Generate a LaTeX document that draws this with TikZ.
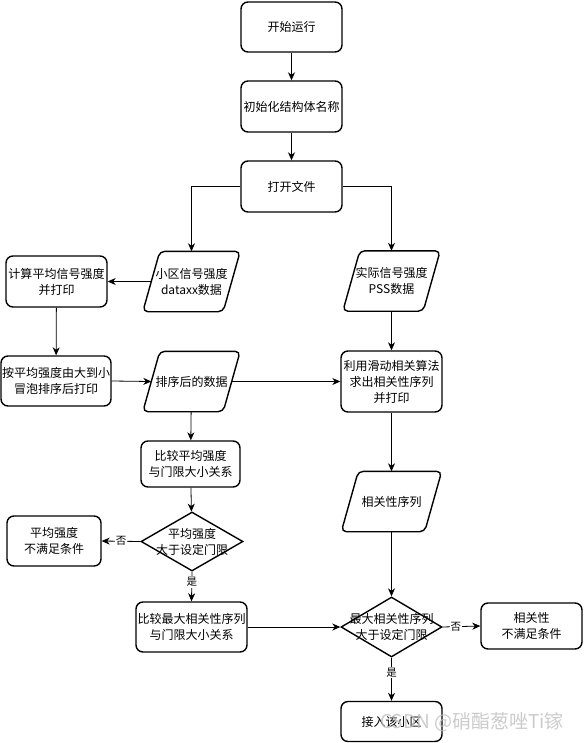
\documentclass[tikz,border=0pt]{standalone}
\usepackage{fontspec}
\setmainfont{Noto Sans CJK SC}
\usetikzlibrary{shapes.geometric,arrows.meta}
\begin{document}
\begin{tikzpicture}[x=1pt,y=-1pt,
  every node/.style={inner sep=0pt, align=center, font=\fontsize{12}{16}\selectfont},
  box/.style={draw, line width=1.4pt, rounded corners=7pt, minimum width=101pt, minimum height=50pt},
  para/.style={minimum width=97pt, minimum height=60pt},
  paraline/.style={draw, line width=1.4pt, rounded corners=5pt},
  dia/.style={diamond, draw, line width=1.4pt, minimum width=102pt, minimum height=59pt},
  arr/.style={-{Stealth[length=8pt,width=7pt,inset=2.5pt]}, line width=0.8pt},
  lab/.style={fill=white, inner sep=1pt, font=\fontsize{10.5}{12}\selectfont},
]
\useasboundingbox (0,0) rectangle (583,743);
\fill[white] (0,0) rectangle (583,743);

\node[box] (start) at (291.5,27) {开始运行};
\node[box, minimum height=51pt] (init) at (291.5,106.5) {初始化结构体名称};
\node[box, minimum height=51pt] (open) at (291.5,186.5) {打开文件};
\node[para] (cell) at (191.5,281.5) {小区信号强度\\dataxx数据};
\node[para] (pss) at (391.5,281) {实际信号强度\\PSS数据};
\node[box, minimum height=51pt] (calc) at (56.5,281.5) {计算平均信号强度\\并打印};
\node[box, minimum width=110pt] (bubble) at (56,381) {按平均强度由大到小\\冒泡排序后打印};
\node[para] (sorted) at (191.5,381.5) {排序后的数据};
\node[box, minimum height=61pt] (slide) at (391.5,381.5) {利用滑动相关算法\\求出相关性序列\\并打印};
\node[box, minimum width=99pt, minimum height=46pt] (cmpavg) at (190.5,464) {比较平均强度\\与门限大小关系};
\node[para, minimum width=100pt] (corr) at (391.5,501.5) {相关性序列};
\node[box, minimum width=94pt] (avgno) at (54,541) {平均强度\\不满足条件};
\node[dia] (d1) at (192,541.5) {};
\node (d1t) at (d1) {平均强度\\大于设定门限};
\node[box, minimum width=111pt] (cmpmax) at (191.5,627) {比较最大相关性序列\\与门限大小关系};
\node[dia, minimum width=101pt, minimum height=60pt] (d2) at (391.5,627) {};
\node (d2t) at (d2) {最大相关性序列\\大于设定门限};
\node[box, minimum height=46pt] (corrno) at (531.5,626) {相关性\\不满足条件};
\node[box, minimum height=40pt] (access) at (391.5,721.5) {接入该小区};

\foreach \p in {cell,pss,sorted,corr}{
  \draw[paraline] (\p.south west) -- ([xshift=-17pt]\p.south east) -- (\p.north east)
    -- ([xshift=17pt]\p.north west) -- cycle;
}

\draw[arr] (start) -- (init);
\draw[arr] (init) -- (open);
\draw[arr] (open.west) -| (cell.north);
\draw[arr] (open.east) -| (pss.north);
\draw[arr] ([xshift=8.5pt]cell.west) -- (cell.west -| calc.east);
\draw[arr] (calc) -- (bubble);
\draw[arr] (bubble.east) -- ([xshift=8.5pt]sorted.west);
\draw[arr] ([xshift=-8.5pt]sorted.east) -- (slide.west);
\draw[arr] (pss) -- (slide);
\draw[arr] (sorted) -- (cmpavg);
\draw[arr] (cmpavg) -- (d1);
\draw[arr] (d1.west) -- node[lab] (n1) {否} (avgno.east);
\draw[arr] (d1.south) -- node[lab, pos=0.35] (y1) {是} (cmpmax.north);
\draw[arr] (slide) -- (corr);
\draw[arr] (corr) -- (d2);
\draw[arr] (cmpmax.east) -- (d2.west);
\draw[arr] (d2.east) -- node[lab, pos=0.35] (n2) {否} (corrno.west);
\draw[arr] (d2.south) -- node[lab, pos=0.35] (y2) {是} (access.north);

\node[text=gray!50, opacity=0.8, font=\fontsize{19}{22}\selectfont, anchor=west] (wm) at (380,722) {CSDN @硝酯葱唑Ti镓};
\end{tikzpicture}
\end{document}
